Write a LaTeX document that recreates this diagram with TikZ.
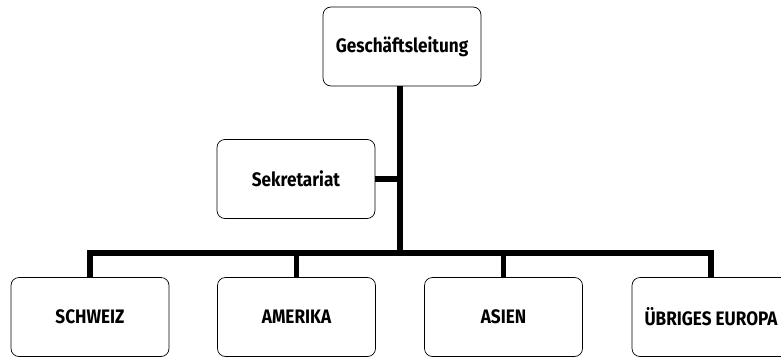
\documentclass[tikz,border=0pt]{standalone}
\usepackage{fontspec}
\setmainfont[FakeStretch=0.88]{Fira Sans}
\usetikzlibrary{positioning}
\tikzset{
x=1pt, y=-1pt, % pixel grid of the chart, y going down
unit/.style={draw, rounded corners=8pt, line width=0.7pt, minimum width=158pt, minimum height=79pt, inner sep=2pt, font=\bfseries\fontsize{19.5}{23}\selectfont}, % every box of the chart
bus/.style={line width=5.5pt, line join=miter}, % the thick connectors
}
\begin{document}
\begin{tikzpicture}
		\useasboundingbox (0,0) rectangle (781,356);
		\node[unit] (gl) at (402,46.5) {Geschäftsleitung};
		\node[unit] (sek) at (296,179) {Sekretariat};
		\node[unit] (ch) at (90,317) {SCHWEIZ};
		\node[unit] (am) at (296.5,317) {AMERIKA};
		\node[unit] (as) at (503.5,317) {ASIEN};
		\node[unit] (eu) at (711,317) {ÜBRIGES EUROPA};
		\coordinate (hub) at (400,253);
		\draw[bus] (gl.south -| hub) -- (hub)
        (sek.east) -- (sek.east -| hub)
        (ch.north) -- (ch.north |- hub) -- (eu.north |- hub) -- (eu.north)
        (am.north) -- (am.north |- hub)
        (as.north) -- (as.north |- hub);
	\end{tikzpicture}
\end{document}
